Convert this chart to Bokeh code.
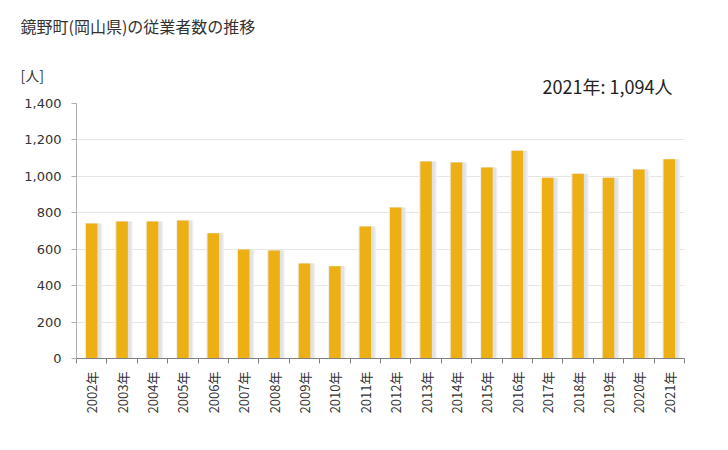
from bokeh.plotting import figure
from bokeh.models import ColumnDataSource, FixedTicker, Label, Range1d, NumeralTickFormatter
from bokeh.embed import file_html
from bokeh.resources import INLINE
import math

years = ["2002年", "2003年", "2004年", "2005年", "2006年", "2007年", "2008年", "2009年", "2010年", "2011年",
         "2012年", "2013年", "2014年", "2015年", "2016年", "2017年", "2018年", "2019年", "2020年", "2021年"]
workers = [741, 752, 752, 757, 687, 599, 593, 522, 506, 725,
           829, 1081, 1076, 1048, 1141, 993, 1015, 993, 1037, 1094]
y_ticks = [0, 200, 400, 600, 800, 1000, 1200, 1400]

centers = [i + 0.5 for i in range(len(years))]
bounds = list(range(len(years) + 1))

src = ColumnDataSource(dict(x=centers, y=workers, xs=[c + 0.06 for c in centers]))

p = figure(width=720, height=442, output_backend="svg", toolbar_location=None,
           x_range=Range1d(0, len(years)), y_range=Range1d(0, 1400),
           min_border_left=76, min_border_right=36, min_border_top=103, min_border_bottom=84)
p.outline_line_color = None
p.background_fill_color = "white"

# shadow
p.vbar(x="xs", top="y", width=0.58, source=src, fill_color="#f0f0f0", line_color=None)
p.vbar(x="xs", top="y", width=0.48, source=src, fill_color="#e2e2e2", line_color=None)
p.vbar(x="x", top="y", width=0.38, source=src, fill_color="#EDB014", line_color=None)

p.xaxis.ticker = FixedTicker(ticks=centers, minor_ticks=bounds)
p.xaxis.major_label_overrides = {c: y for c, y in zip(centers, years)}
p.xaxis.major_tick_out = 0
p.xaxis.major_tick_in = 0
p.xaxis.minor_tick_out = 5
p.xaxis.minor_tick_in = 0
p.xaxis.minor_tick_line_color = "#808080"
p.xaxis.axis_line_color = "#808080"
p.xaxis.major_label_orientation = math.pi / 2
p.xaxis.major_label_text_font = "Noto Sans CJK JP"
p.xaxis.major_label_text_font_size = "13px"
p.xaxis.major_label_text_color = "#333333"
p.xaxis.major_label_standoff = 8
p.xgrid.grid_line_color = None

p.yaxis.ticker = FixedTicker(ticks=y_ticks)
p.yaxis.formatter = NumeralTickFormatter(format="0,0")
p.yaxis.axis_line_color = "#b0b0b0"
p.yaxis.major_tick_line_color = "#b0b0b0"
p.yaxis.major_tick_out = 5
p.yaxis.major_tick_in = 0
p.yaxis.minor_tick_line_color = None
p.yaxis.major_label_text_font = "DejaVu Sans"
p.yaxis.major_label_text_font_size = "13px"
p.yaxis.major_label_text_color = "#333333"
p.yaxis.major_label_standoff = 10
p.ygrid.grid_line_color = "#e6e6e6"

# labels in the top side panel (each stacks in its own slot)
p.add_layout(Label(x=-56, y=66, x_units="screen", y_units="screen",
                   text="鏡野町(岡山県)の従業者数の推移", text_font="Noto Sans CJK JP",
                   text_font_size="16px", text_color="#333333"), "above")
p.add_layout(Label(x=-56, y=-5, x_units="screen", y_units="screen",
                   text="[人]", text_font="Noto Sans CJK JP",
                   text_font_size="14px", text_color="#333333"), "above")
p.add_layout(Label(x=596, y=-39, x_units="screen", y_units="screen",
                   text="2021年: 1,094人", text_font="Noto Sans CJK JP", text_align="right",
                   text_font_size="18px", text_color="#222222"), "above")

open("out.html", "w").write(file_html(p, INLINE))
